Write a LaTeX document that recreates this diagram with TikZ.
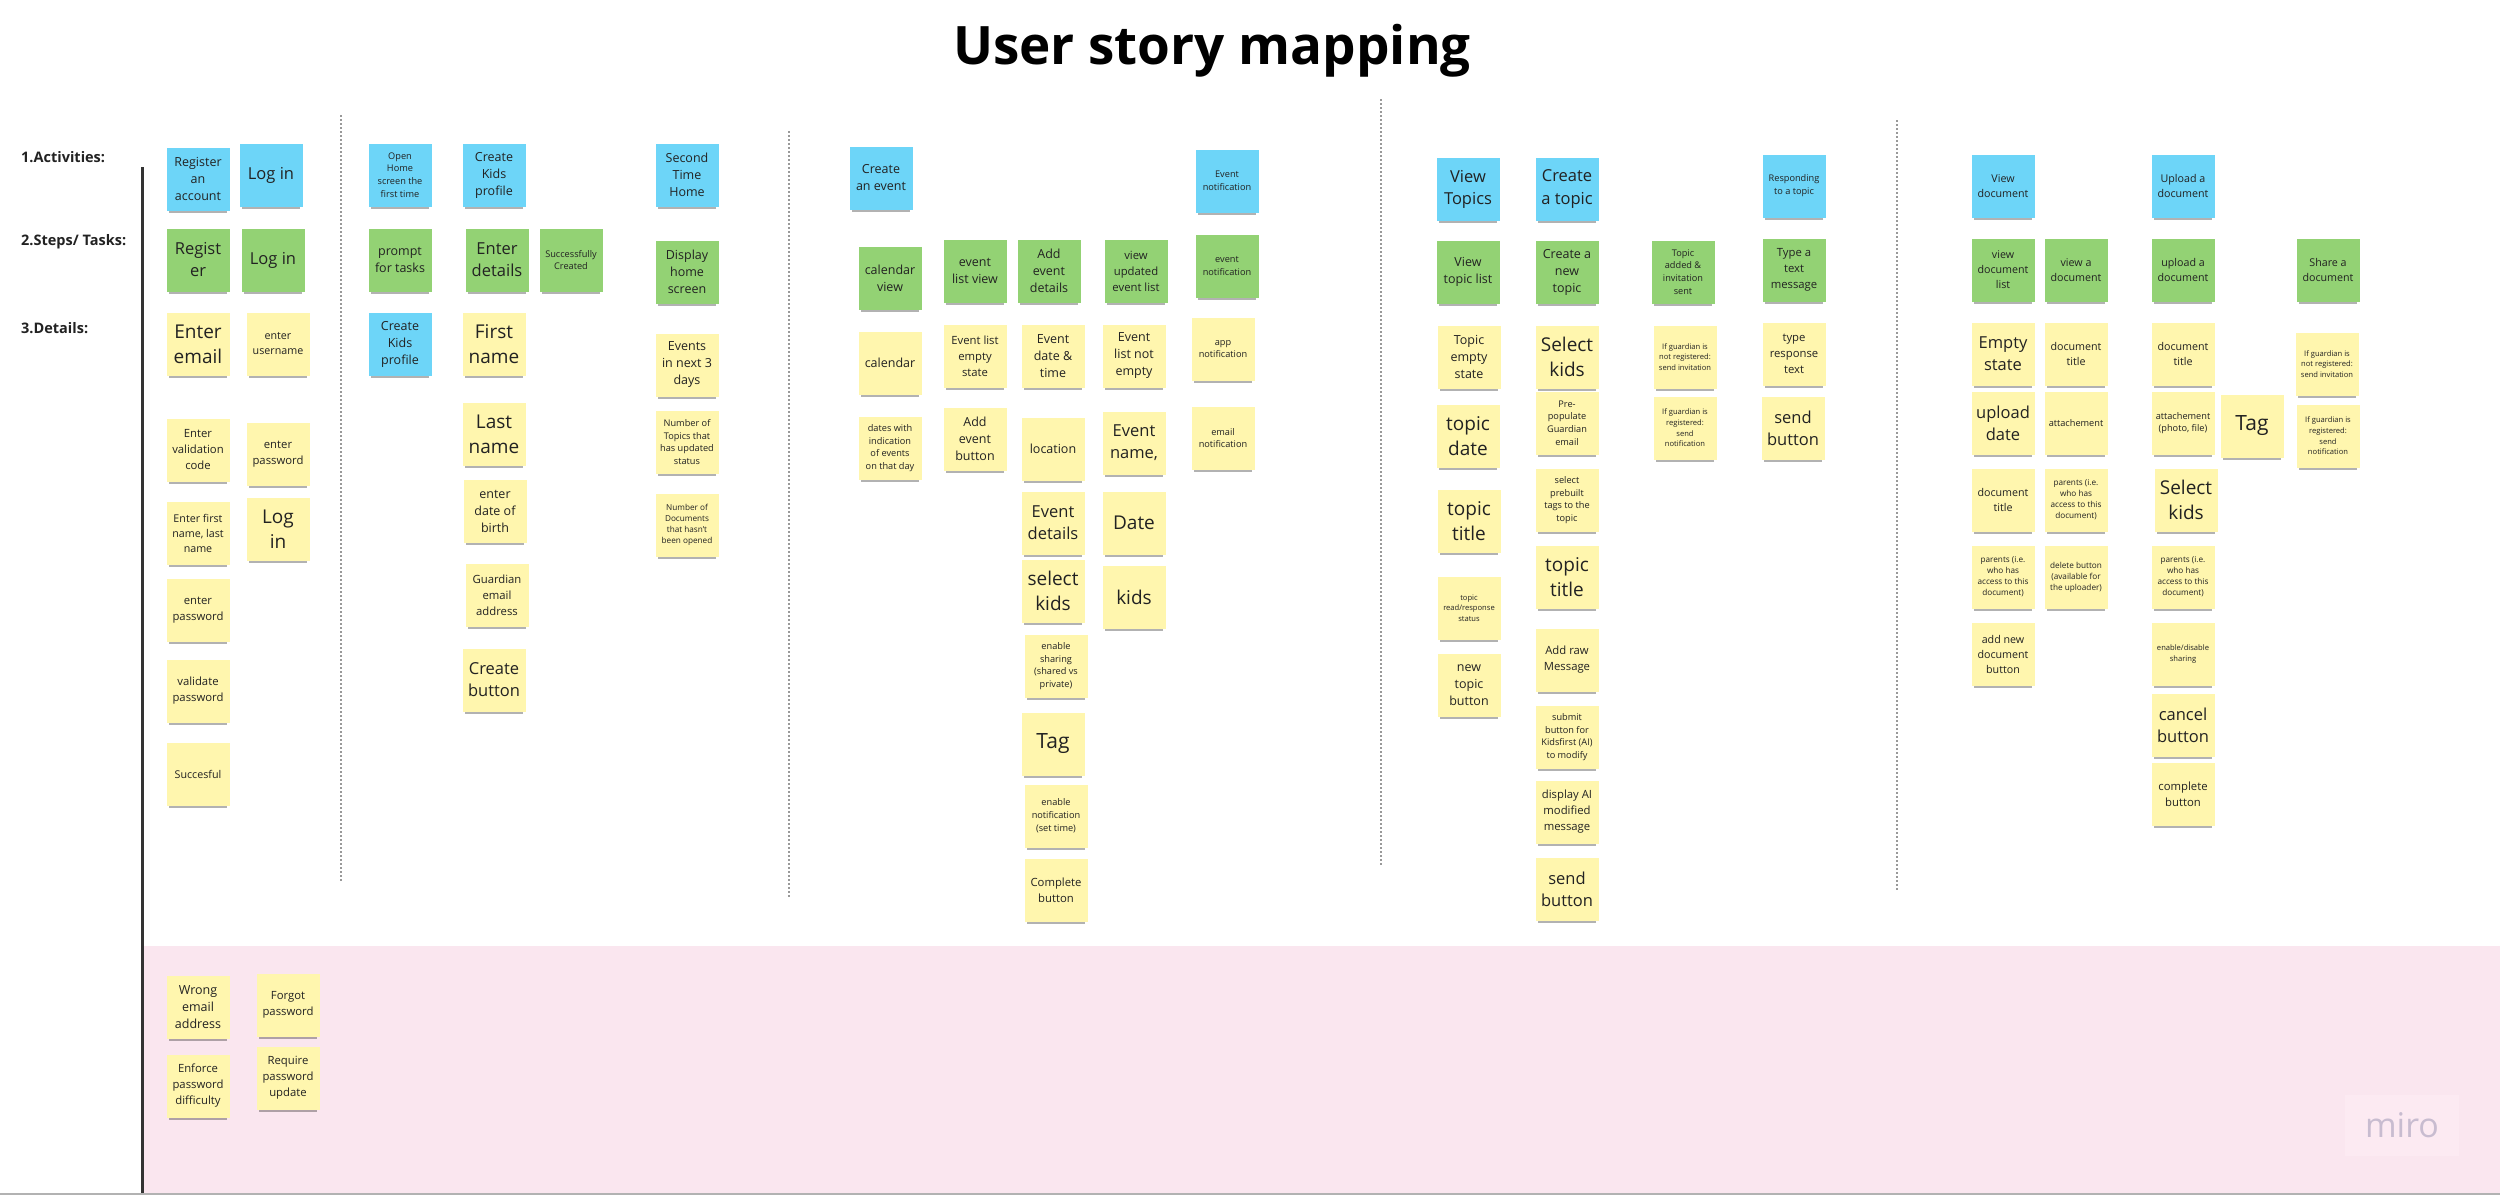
\documentclass[tikz,border=0pt]{standalone}
\usepackage{fontspec}
\setmainfont{Open Sans}
\usetikzlibrary{shadows}
\definecolor{stickyyellow}{HTML}{FFF6AE}
\definecolor{stickygreen}{HTML}{93D274}
\definecolor{stickyblue}{HTML}{6DD5F8}
\definecolor{bandpink}{HTML}{FAE6EF}
\definecolor{logopink}{HTML}{FCEAF2}
\definecolor{logoink}{HTML}{C8BCD0}
\definecolor{ink}{HTML}{222222}
\tikzset{
  note/.style={rectangle,minimum width=63pt,minimum height=63pt,inner sep=1pt,align=center,text=ink,
    drop shadow={shadow xshift=0pt,shadow yshift=-5pt,shadow scale=0.92,opacity=0.3,fill=black}},
  yel/.style={note,fill=stickyyellow},
  grn/.style={note,fill=stickygreen},
  blu/.style={note,fill=stickyblue},
  fs/.style 2 args={font=\fontsize{#1}{#2}\selectfont},
  txtTag/.style={fs={21}{26}},
  txtXL/.style={fs={19}{25}},
  txtL/.style={fs={16.5}{22}},
  txtM/.style={fs={12.5}{17}},
  txtMs/.style={fs={11.3}{16}},
  txtD/.style={fs={10.7}{15}},
  txtS/.style={fs={9.2}{12.8}},
  txtSS/.style={fs={8.2}{11}},
  txtXS/.style={fs={7.6}{10.6}},
  rowlabel/.style={anchor=west,inner sep=0pt,font=\fontsize{14.5}{17}\selectfont\bfseries,text=ink},
  divider/.style={draw=black!40,line width=1.2pt,dash pattern=on 2pt off 2pt}
}
\begin{document}
\begin{tikzpicture}[x=1pt,y=-1pt]
\useasboundingbox (0,0) rectangle (2500,1195);
\fill[white] (0,0) rectangle (2500,1195);
\node[font=\fontsize{53}{60}\selectfont\bfseries,text=black] (title) at (1212,51) {User story mapping};
% row labels and the release band
\fill[bandpink] (143,946) rectangle (2500,1195);
\draw[black!80,line width=3pt] (142,167) -- (142,1195);
\draw[black!30,line width=1.5pt] (0,1194) -- (2500,1194);
\node[rowlabel] (actlabel) at (21,157) {1.Activities:};
\node[rowlabel] (steplabel) at (21,242) {2.Steps/ Tasks:};
\node[rowlabel] (detlabel) at (21,328) {3.Details:};
\draw[divider] (341,115) -- (341,882);
\draw[divider] (789,131) -- (789,898);
\draw[divider] (1381,99) -- (1381,866);
\draw[divider] (1897,120) -- (1897,890);
% register / log in
\node[blu,txtM] (actReg) at (198,179) {Register\\an\\account};
\node[blu,txtL] (actLogin) at (271,175) {Log in};
\node[grn,txtL] (stReg) at (198,260) {Regist\\er};
\node[grn,txtL] (stLogin) at (273,260) {Log in};
\node[yel,txtXL] (dEmail) at (198,344) {Enter\\email};
\node[yel,txtMs] (dValid) at (198,450) {Enter\\validation\\code};
\node[yel,txtD] (dName) at (198,533) {Enter first\\name, last\\name};
\node[yel,txtMs] (dPass) at (198,610) {enter\\password};
\node[yel,txtMs] (dValPass) at (198,691) {validate\\password};
\node[yel,txtD] (dOK) at (198,774) {Succesful};
\node[yel,txtD] (dUser) at (278,344) {enter\\username};
\node[yel,txtMs] (dPassB) at (278,454) {enter\\password};
\node[yel,txtXL] (dLogin) at (278,529) {Log\\in};
% home and kids profile
\node[blu,txtS] (actHome) at (400,175) {Open\\Home\\screen the\\first time};
\node[grn,txtM] (stPrompt) at (400,260) {prompt\\for tasks};
\node[blu,txtM] (dKidsProf) at (400,344) {Create\\Kids\\profile};
\node[blu,txtM] (actKids) at (494,175) {Create\\Kids\\profile};
\node[grn,txtL] (stDetails) at (497,260) {Enter\\details};
\node[grn,txtS] (stCreated) at (571,260) {Successfully\\Created};
\node[yel,txtXL] (dFirst) at (494,344) {First\\name};
\node[yel,txtXL] (dLast) at (494,434) {Last\\name};
\node[yel,txtM] (dBirth) at (495,511) {enter\\date of\\birth};
\node[yel,txtMs] (dGuard) at (497,595) {Guardian\\email\\address};
\node[yel,txtL] (dCreate) at (494,680) {Create\\button};
\node[blu,txtM] (actSecond) at (687,175) {Second\\Time\\Home};
\node[grn,txtM] (stDisplay) at (687,272) {Display\\home\\screen};
\node[yel,txtM] (dEvents) at (687,365) {Events\\in next 3\\days};
\node[yel,txtS] (dTopicsNum) at (687,442) {Number of\\Topics that\\has updated\\status};
\node[yel,txtSS] (dDocsNum) at (687,525) {Number of\\Documents\\that hasn't\\been opened};
% events
\node[blu,txtM] (actEvent) at (881,178) {Create\\an event};
\node[blu,txtS] (actNotif) at (1227,181) {Event\\notification};
\node[grn,txtM] (stCal) at (890,278) {calendar\\view};
\node[grn,txtM] (stList) at (975,271) {event\\list view};
\node[grn,txtM] (stAdd) at (1049,271) {Add\\event\\details};
\node[grn,txtMs] (stUpd) at (1136,271) {view\\updated\\event list};
\node[grn,txtS] (stNotif) at (1227,266) {event\\notification};
\node[yel,txtM] (dCal) at (890,363) {calendar};
\node[yel,txtMs] (dListEmpty) at (975,356) {Event list\\empty\\state};
\node[yel,txtM] (dEvDate) at (1053,356) {Event\\date \&\\time};
\node[yel,txtM] (dNotEmpty) at (1134,356) {Event\\list not\\empty};
\node[yel,txtS] (dApp) at (1223,349) {app\\notification};
\node[yel,txtS] (dDates) at (890,448) {dates with\\indication\\of events\\on that day};
\node[yel,txtM] (dAddBtn) at (975,439) {Add\\event\\button};
\node[yel,txtM] (dLoc) at (1053,449) {location};
\node[yel,txtL] (dEvName) at (1134,443) {Event\\name,};
\node[yel,txtS] (dMail) at (1223,438) {email\\notification};
\node[yel,txtL] (dEvDet) at (1053,523) {Event\\details};
\node[yel,txtXL] (dDate) at (1134,523) {Date};
\node[yel,txtXL] (dSelKids) at (1053,591) {select\\kids};
\node[yel,txtXL] (dKids) at (1134,597) {kids};
\node[yel,txtS] (dShare) at (1056,666) {enable\\sharing\\(shared vs\\private)};
\node[yel,txtTag] (dTag) at (1053,744) {Tag};
\node[yel,txtS] (dRemind) at (1056,816) {enable\\notification\\(set time)};
\node[yel,txtMs] (dDone) at (1056,890) {Complete\\button};
% topics
\node[blu,txtL] (actViewT) at (1468,189) {View\\Topics};
\node[blu,txtL] (actNewT) at (1567,189) {Create\\a topic};
\node[blu,txtS] (actResp) at (1794,186) {Responding\\to a topic};
\node[grn,txtM] (stViewT) at (1468,272) {View\\topic list};
\node[grn,txtM] (stNewT) at (1567,272) {Create a\\new\\topic};
\node[grn,txtS] (stSent) at (1683,272) {Topic\\added \&\\invitation\\sent};
\node[grn,txtMs] (stType) at (1794,270) {Type a\\text\\message};
\node[yel,txtM] (dTEmpty) at (1469,357) {Topic\\empty\\state};
\node[yel,txtXL] (dTKids) at (1567,357) {Select\\kids};
\node[yel,txtXS] (dInvite) at (1685,357) {If guardian is\\not registered:\\send invitation};
\node[yel,txtMs] (dRespText) at (1794,354) {type\\response\\text};
\node[yel,txtXL] (dTDate) at (1468,436) {topic\\date};
\node[yel,txtS] (dPre) at (1567,423) {Pre-\\populate\\Guardian\\email};
\node[yel,txtXS] (dNotify) at (1685,428) {If guardian is\\registered:\\send\\notification};
\node[yel,txtL] (dSend) at (1793,428) {send\\button};
\node[yel,txtXL] (dTTitle) at (1469,521) {topic\\title};
\node[yel,txtS] (dTags) at (1567,500) {select\\prebuilt\\tags to the\\topic};
\node[yel,txtXL] (dTTitleB) at (1567,577) {topic\\title};
\node[yel,txtXS] (dStatus) at (1469,608) {topic\\read/response\\status};
\node[yel,txtM] (dNewBtn) at (1469,685) {new\\topic\\button};
\node[yel,txtMs] (dRaw) at (1567,660) {Add raw\\Message};
\node[yel,txtS] (dSubmit) at (1567,737) {submit\\button for\\Kidsfirst (AI)\\to modify};
\node[yel,txtMs] (dAI) at (1567,812) {display AI\\modified\\message};
\node[yel,txtL] (dSendB) at (1567,889) {send\\button};
% documents
\node[blu,txtD] (actViewD) at (2003,186) {View\\document};
\node[blu,txtD] (actUp) at (2183,186) {Upload a\\document};
\node[grn,txtD] (stViewL) at (2003,270) {view\\document\\list};
\node[grn,txtD] (stViewA) at (2076,270) {view a\\document};
\node[grn,txtD] (stUp) at (2183,270) {upload a\\document};
\node[grn,txtD] (stShare) at (2328,270) {Share a\\document};
\node[yel,txtL] (dDEmpty) at (2003,354) {Empty\\state};
\node[yel,txtD] (dDTitle) at (2076,354) {document\\title};
\node[yel,txtD] (dUTitle) at (2183,354) {document\\title};
\node[yel,txtXS] (dDInvite) at (2327,364) {If guardian is\\not registered:\\send invitation};
\node[yel,txtL] (dUpDate) at (2003,423) {upload\\date};
\node[yel,txtS] (dAtt) at (2076,423) {attachement};
\node[yel,txtS] (dUAtt) at (2183,423) {attachement\\(photo, file)};
\node[yel,txtTag] (dUTag) at (2252,426) {Tag};
\node[yel,txtXS] (dDNotify) at (2328,436) {If guardian is\\registered:\\send\\notification};
\node[yel,txtD] (dDTitleB) at (2003,500) {document\\title};
\node[yel,txtSS] (dParA) at (2076,500) {parents (i.e.\\who has\\access to this\\document)};
\node[yel,txtXL] (dUKids) at (2186,500) {Select\\kids};
\node[yel,txtSS] (dParB) at (2003,577) {parents (i.e.\\who has\\access to this\\document)};
\node[yel,txtSS] (dDel) at (2076,577) {delete button\\(available for\\the uploader)};
\node[yel,txtSS] (dParC) at (2183,577) {parents (i.e.\\who has\\access to this\\document)};
\node[yel,txtD] (dAddDoc) at (2003,654) {add new\\document\\button};
\node[yel,txtXS] (dToggle) at (2183,654) {enable/disable\\sharing};
\node[yel,txtL] (dCancel) at (2183,725) {cancel\\button};
\node[yel,txtMs] (dComplete) at (2183,794) {complete\\button};
% edge cases in the band
\node[yel,txtM] (eWrong) at (198,1007) {Wrong\\email\\address};
\node[yel,txtMs] (eForgot) at (288,1005) {Forgot\\password};
\node[yel,txtMs] (eEnforce) at (198,1086) {Enforce\\password\\difficulty};
\node[yel,txtMs] (eRequire) at (288,1078) {Require\\password\\update};
\node[fill=logopink,minimum width=114pt,minimum height=61pt,text=logoink,font=\fontsize{34}{40}\selectfont] (logo) at (2402,1125) {miro};
\end{tikzpicture}
\end{document}
